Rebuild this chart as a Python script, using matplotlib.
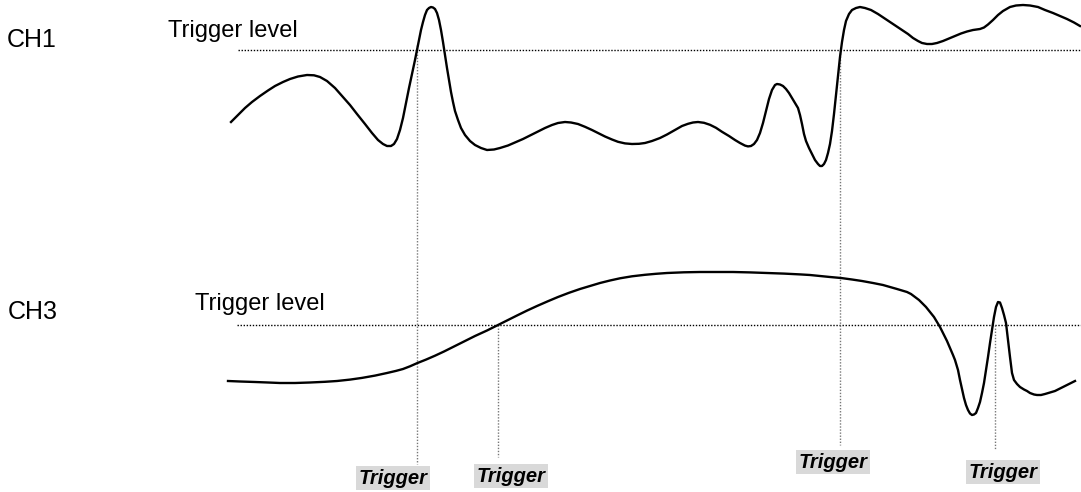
import matplotlib
matplotlib.use("Agg")
import matplotlib.pyplot as plt

# diagram drawn in picture coordinates (x right, y down)
W, H = 1081, 492

ch1_x = [231, 238, 245, 252, 260, 268, 275, 283, 290, 298, 307, 314, 320, 327,
         335, 342, 350, 357, 365, 372, 378, 383, 387, 391, 394, 397, 400, 403,
         406, 409, 412, 415, 417, 419, 421, 423, 425, 427, 429, 431, 433, 435,
         437, 439, 441, 443, 445, 447, 449, 451, 453, 455, 458, 461, 465, 470,
         475, 481, 487, 494, 500, 508, 515, 523, 530, 538, 545, 552, 558, 565,
         571, 578, 585, 592, 599, 605, 612, 618, 625, 632, 639, 645, 652, 660,
         667, 675, 682, 688, 693, 698, 704, 710, 716, 722, 729, 735, 740, 745,
         748, 751, 754, 757, 760, 763, 766, 769, 772, 775, 777, 780, 783, 786,
         789, 792, 795, 798, 800, 802, 804, 806, 809, 812, 815, 818, 820, 822,
         824, 826, 828, 830, 832, 834, 836, 838, 840, 842, 844, 846, 849, 852,
         856, 860, 865, 871, 878, 884, 890, 896, 902, 908, 913, 918, 922, 927,
         932, 937, 943, 949, 955, 961, 967, 973, 980, 984, 988, 993, 998, 1003,
         1010, 1016, 1023, 1030, 1038, 1045, 1053, 1060, 1067, 1074, 1080]
ch1_y = [122, 115, 108, 102, 96, 90.5, 86, 82, 79, 76.5, 75, 75.3, 77, 81,
         88, 96, 105, 114, 124, 133, 140, 144, 146, 146, 144, 139, 130, 118,
         103, 88, 74, 60, 50, 40, 30, 22, 15, 10, 8, 7, 7.5, 9,
         13, 20, 30, 42, 55, 68, 80, 92, 102, 111, 120, 128, 135, 141,
         145, 148, 150, 149.5, 148, 145.5, 142.5, 139, 135.5, 131.5, 128, 125, 123, 122,
         122.5, 124, 126.8, 130, 133.5, 136.5, 139.5, 141.8, 143.4, 144, 143.8, 143, 141, 138,
         134.5, 130, 126, 123.8, 122.5, 122, 122.8, 124.8, 127.8, 131.8, 136, 140, 143, 145.6,
         146.4, 146, 144, 140, 133, 123, 111, 99, 90, 85, 84, 84.5, 86, 89,
         93, 98, 103, 108, 115, 124, 134, 141, 148, 154, 160, 164, 166, 166,
         164, 160, 153, 144, 131, 114, 95, 75, 57, 42, 30, 21, 14, 10,
         8, 7, 8, 10, 14, 18, 22, 26, 30, 34, 38, 41, 43, 44,
         44, 43, 41, 38.5, 36, 33.5, 31.5, 30, 29, 27.5, 24.5, 20, 15, 11,
         7, 5.5, 5, 5.5, 7, 10, 13, 16, 19, 22.5, 26]

ch3_x = [228, 240, 255, 268, 280, 295, 310, 325, 337, 350, 362, 375, 387, 396,
         403, 410, 417, 426, 435, 444, 453, 464, 475, 487, 498, 508, 517, 527,
         537, 548, 558, 569, 580, 590, 600, 610, 620, 632, 645, 656, 667, 684,
         700, 717, 733, 750, 767, 784, 800, 810, 820, 830, 841, 852, 862, 873,
         883, 890, 897, 902, 907, 911, 915, 919, 922, 926, 930, 934, 937, 940,
         943, 947, 950, 953, 955, 958, 960, 962, 964, 966, 968, 970, 972, 974,
         976, 978, 980, 982, 984, 986, 988, 990, 992, 994, 996, 998, 1000, 1002,
         1004, 1006, 1008, 1010, 1012, 1014, 1017, 1020, 1024, 1027, 1030, 1034,
         1037, 1041, 1045, 1050, 1055, 1060, 1065, 1070, 1075]
ch3_y = [381, 381.5, 382, 382.5, 383, 383, 382.5, 381.8, 381, 379.6, 377.9, 375.6, 373, 370.9,
         369, 366.3, 363.2, 359.6, 355.7, 351.5, 347, 341.5, 336, 330.5, 325, 320, 315.5, 310.6,
         306, 301.2, 297, 292.8, 289, 286, 283, 280.5, 278.3, 276.3, 274.8, 273.8, 273, 272.3,
         272, 272, 272, 272.4, 273, 273.6, 274.4, 275, 276, 277, 278, 279.5, 281, 283,
         285, 287, 289, 290.5, 292, 294, 297, 300, 303, 307, 312, 317, 322, 327,
         333, 341, 348, 355, 360, 370, 380, 389, 398, 405, 410, 413.5, 415, 414.5,
         413, 408, 402, 393, 383, 370, 357, 343, 330, 317, 307, 302, 302.5, 308,
         315, 323, 340, 357, 373, 380, 384, 387, 389.5, 391, 393, 394.5,
         395, 395, 394, 392.5, 391, 388.5, 386, 383.5, 381]

# trigger levels (y) and where the dotted level lines start
levels = [50, 325]
level_start = [238, 237]

# trigger points: x, top and bottom of the marker line
trig_x = [417, 498, 840, 995]
trig_top = [45, 325, 50, 325]
trig_bot = [464, 457, 445, 450]
# label centres
label_x = [393, 511, 833, 1003]
label_y = [478, 476, 462, 472]

channels = ["CH1", "CH3"]
chan_pos = [(7, 47), (8, 319)]
level_text_pos = [(168, 37), (195, 310)]

plt.rcParams['font.family'] = ['Liberation Sans', 'DejaVu Sans']

fig = plt.figure(figsize=(W / 100, H / 100), dpi=100)
ax = fig.add_axes([0, 0, 1, 1])
ax.set_xlim(0, W)
ax.set_ylim(H, 0)
ax.axis('off')

for lv, x0 in zip(levels, level_start):
    ax.plot([x0, W], [lv, lv], color='black', lw=1.0, ls=(0, (1, 1.2)))

for x, t, b in zip(trig_x, trig_top, trig_bot):
    ax.plot([x, x], [t, b], color='#777777', lw=1.0, ls=(0, (1, 1.2)))

ax.plot(ch1_x, ch1_y, color='black', lw=1.7, solid_joinstyle='round')
ax.plot(ch3_x, ch3_y, color='black', lw=1.7, solid_joinstyle='round')

for name, (x, y) in zip(channels, chan_pos):
    ax.text(x, y, name, fontsize=18, va='baseline', ha='left')
for x, y in level_text_pos:
    ax.text(x, y, "Trigger level", fontsize=17, va='baseline', ha='left')

for x, y in zip(label_x, label_y):
    ax.text(x, y, "Trigger", fontsize=14.5, fontweight='bold', fontstyle='italic',
            ha='center', va='center',
            bbox=dict(boxstyle='square,pad=0.1', fc='#d9d9d9', ec='none'))

fig.savefig('out.png', dpi=100)
